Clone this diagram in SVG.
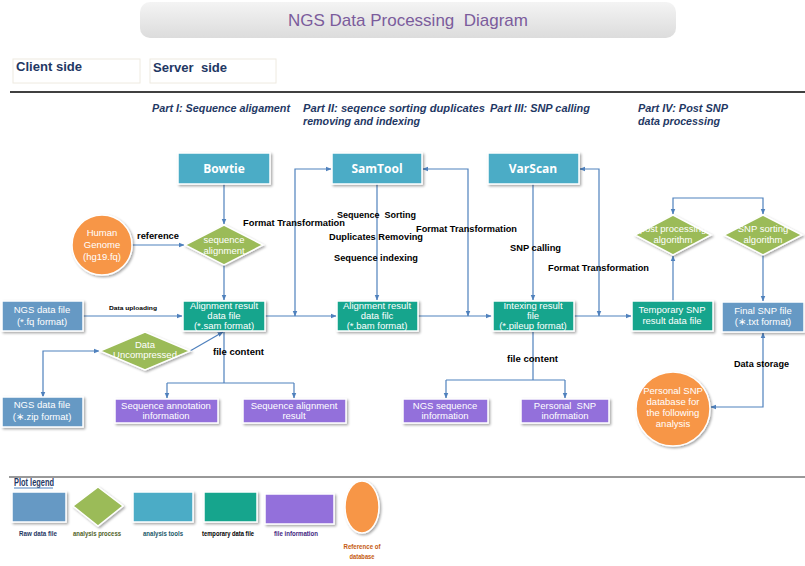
<svg xmlns="http://www.w3.org/2000/svg" width="805" height="566" viewBox="0 0 805 566">
<style>
text{white-space:pre}
.lbl{font-family:"Liberation Sans",Arial,sans-serif;font-weight:bold;font-size:9px;fill:#000}
.tiny{font-family:"Liberation Sans",Arial,sans-serif;font-weight:bold;font-size:6px;fill:#000}
.part{font-family:"Liberation Sans",Arial,sans-serif;font-weight:bold;font-style:italic;font-size:10px;fill:#1f3864}
.nt{font-family:"Liberation Sans",Arial,sans-serif;font-size:9.5px;fill:#fff;text-anchor:middle}
.tool{font-family:"Open Sans","Liberation Sans",sans-serif;font-size:12px;font-weight:bold;fill:#fff;text-anchor:middle}
.raw{fill:#6699c4;stroke:#fff;stroke-width:1.5;filter:url(#sh)}
.tl{fill:#4bacc6;stroke:#fff;stroke-width:1.5;filter:url(#sh)}
.tmp{fill:#13a58d;stroke:#fff;stroke-width:1.5;filter:url(#sh)}
.inf{fill:#9370db;stroke:#fff;stroke-width:1.5;filter:url(#sh)}
.dia{fill:#9bbb59;stroke:#fff;stroke-width:1.5;filter:url(#sh)}
.org{fill:#f79646;stroke:#fff;stroke-width:1.5;filter:url(#sh)}
.c{fill:none;stroke:#4f81bd;stroke-width:1.2}
.leg{font-family:"Liberation Sans",Arial,sans-serif;font-weight:bold;font-size:8px;text-anchor:middle}
</style>
<defs>
<filter id="sh" x="-20%" y="-20%" width="150%" height="150%">
<feDropShadow dx="1.5" dy="1.5" stdDeviation="1" flood-color="#000" flood-opacity="0.35"/>
</filter>
<linearGradient id="tg" x1="0" y1="0" x2="0" y2="1">
<stop offset="0" stop-color="#f4f4f4"/><stop offset="1" stop-color="#dcdcdc"/>
</linearGradient>
<marker id="ar" viewBox="0 0 10 10" refX="9" refY="5" markerWidth="6" markerHeight="6" orient="auto-start-reverse" markerUnits="userSpaceOnUse">
<path d="M0,1 L10,5 L0,9 z" fill="#4f81bd"/>
</marker>
</defs>
<rect width="805" height="566" fill="#fff"/>

<g id="title">
<rect x="140" y="2" width="536" height="36" rx="10" fill="url(#tg)"/>
<text x="408" y="26" text-anchor="middle" font-family="Liberation Sans,Arial,sans-serif" font-size="17" fill="#7b5c9c">NGS Data Processing  Diagram</text>
</g>
<g id="sides">
<rect x="13" y="59" width="127" height="24" fill="#fff" stroke="#eeeae0"/>
<text x="16" y="71" font-family="Liberation Sans,Arial,sans-serif" font-weight="bold" font-size="12" fill="#1f3864" textLength="66" lengthAdjust="spacingAndGlyphs">Client side</text>
<rect x="150" y="59" width="126" height="24" fill="#fff" stroke="#eeeae0"/>
<text x="153" y="72" font-family="Liberation Sans,Arial,sans-serif" font-weight="bold" font-size="12" fill="#1f3864" textLength="74" lengthAdjust="spacingAndGlyphs">Server  side</text>
<line x1="10" y1="92" x2="805" y2="92" stroke="#000" stroke-width="1.5"/>
</g>
<g id="parts">
<text class="part" x="152" y="112" textLength="138" lengthAdjust="spacingAndGlyphs">Part I: Sequence aligament</text>
<text class="part" x="303" y="112" textLength="182" lengthAdjust="spacingAndGlyphs">Part II: seqence sorting duplicates</text>
<text class="part" x="303" y="125" textLength="117" lengthAdjust="spacingAndGlyphs">removing and indexing</text>
<text class="part" x="490" y="112" textLength="100" lengthAdjust="spacingAndGlyphs">Part III: SNP calling</text>
<text class="part" x="638" y="112" textLength="90" lengthAdjust="spacingAndGlyphs">Part IV: Post SNP</text>
<text class="part" x="638" y="125" textLength="82" lengthAdjust="spacingAndGlyphs">data processing</text>
</g>

<g id="connectors">
<path class="c" d="M224,184 V224" marker-end="url(#ar)"/>
<path class="c" d="M132,245 H184" marker-end="url(#ar)"/>
<path class="c" d="M224,265 V300" marker-end="url(#ar)"/>
<path class="c" d="M83,316 H182" marker-end="url(#ar)"/>
<path class="c" d="M43,397 V351 H99" marker-start="url(#ar)" marker-end="url(#ar)"/>
<path class="c" d="M190,351 L223,332" marker-end="url(#ar)"/>
<path class="c" d="M224,332 V383 M167,383 H294"/>
<path class="c" d="M167,383 V398" marker-end="url(#ar)"/>
<path class="c" d="M294,383 V398" marker-end="url(#ar)"/>
<path class="c" d="M265,316 H336" marker-end="url(#ar)"/>
<path class="c" d="M295,316 V169 H331" marker-start="url(#ar)" marker-end="url(#ar)"/>
<path class="c" d="M377,184 V300" marker-end="url(#ar)"/>
<path class="c" d="M418,316 H491" marker-end="url(#ar)"/>
<path class="c" d="M468,316 V169 H423" marker-start="url(#ar)" marker-end="url(#ar)"/>
<path class="c" d="M533,184 V300" marker-end="url(#ar)"/>
<path class="c" d="M574,316 H631" marker-end="url(#ar)"/>
<path class="c" d="M599,316 V169 H580" marker-start="url(#ar)" marker-end="url(#ar)"/>
<path class="c" d="M533,332 V380 M446,380 H565"/>
<path class="c" d="M446,380 V398" marker-end="url(#ar)"/>
<path class="c" d="M565,380 V398" marker-end="url(#ar)"/>
<path class="c" d="M673,301 V256" marker-end="url(#ar)"/>
<path class="c" d="M673,214 V198 H763 V214" marker-start="url(#ar)" marker-end="url(#ar)"/>
<path class="c" d="M763,255 V301" marker-end="url(#ar)"/>
<path class="c" d="M763,333 V407 H711" marker-start="url(#ar)" marker-end="url(#ar)"/>
</g>

<g id="conn-labels">
<text class="lbl" x="137" y="239" textLength="42" lengthAdjust="spacingAndGlyphs">reference</text>
<text class="tiny" x="109" y="310" textLength="48" lengthAdjust="spacingAndGlyphs">Data uploading</text>
<text class="lbl" x="213" y="355" textLength="51" lengthAdjust="spacingAndGlyphs">file content</text>
<text class="lbl" x="243" y="226" textLength="102" lengthAdjust="spacingAndGlyphs">Format Transformation</text>
<text class="lbl" x="337" y="218" textLength="79" lengthAdjust="spacingAndGlyphs">Sequence  Sorting</text>
<text class="lbl" x="329" y="240" textLength="94" lengthAdjust="spacingAndGlyphs">Duplicates Removing</text>
<text class="lbl" x="334" y="261" textLength="84" lengthAdjust="spacingAndGlyphs">Sequence indexing</text>
<text class="lbl" x="416" y="232" textLength="101" lengthAdjust="spacingAndGlyphs">Format Transformation</text>
<text class="lbl" x="510" y="251" textLength="51" lengthAdjust="spacingAndGlyphs">SNP calling</text>
<text class="lbl" x="548" y="271" textLength="101" lengthAdjust="spacingAndGlyphs">Format Transformation</text>
<text class="lbl" x="507" y="362" textLength="51" lengthAdjust="spacingAndGlyphs">file content</text>
<text class="lbl" x="734" y="367" textLength="55" lengthAdjust="spacingAndGlyphs">Data storage</text>
</g>

<g id="bowtie"><rect class="tl" x="178" y="153" width="92" height="31"/><text class="tool" x="224" y="173">Bowtie</text></g>
<g id="samtool"><rect class="tl" x="332" y="153" width="90" height="31"/><text class="tool" x="377" y="173">SamTool</text></g>
<g id="varscan"><rect class="tl" x="488" y="153" width="91" height="31"/><text class="tool" x="533" y="173">VarScan</text></g>

<g id="human-genome"><circle class="org" cx="102" cy="245" r="30"/>
<text class="nt" x="102" y="236">Human</text><text class="nt" x="102" y="248">Genome</text><text class="nt" x="102" y="260">(hg19.fq)</text></g>
<g id="seq-align"><polygon class="dia" points="224,225 263,245 224,265 185,245"/>
<text class="nt" x="224" y="243">sequence</text><text class="nt" x="224" y="254">alignment</text></g>

<g id="fq"><rect class="raw" x="2" y="301" width="81" height="30"/>
<text class="nt" x="42" y="313">NGS data file</text><text class="nt" x="42" y="325">(*.fq format)</text></g>
<g id="sam"><rect class="tmp" x="183" y="301" width="82" height="30"/>
<text class="nt" x="224" y="309">Alignment result</text><text class="nt" x="224" y="319">data file</text><text class="nt" x="224" y="329">(*.sam format)</text></g>
<g id="uncompress"><polygon class="dia" points="145,332 190,351 145,370 100,351"/>
<text class="nt" x="145" y="348">Data</text><text class="nt" x="145" y="358">Uncompressed</text></g>
<g id="zip"><rect class="raw" x="2" y="397" width="81" height="30"/>
<text class="nt" x="42" y="408">NGS data file</text><text class="nt" x="42" y="420">(∗.zip format)</text></g>
<g id="seq-annot"><rect class="inf" x="115" y="399" width="103" height="24"/>
<text class="nt" x="166" y="409">Sequence annotation</text><text class="nt" x="166" y="419">information</text></g>
<g id="seq-result"><rect class="inf" x="243" y="399" width="103" height="24"/>
<text class="nt" x="294" y="409">Sequence alignment</text><text class="nt" x="294" y="419">result</text></g>

<g id="bam"><rect class="tmp" x="337" y="301" width="81" height="30"/>
<text class="nt" x="377" y="309">Alignment result</text><text class="nt" x="377" y="319">data filc</text><text class="nt" x="377" y="329">(*.bam format)</text></g>
<g id="pileup"><rect class="tmp" x="493" y="301" width="81" height="30"/>
<text class="nt" x="533" y="309">Intexing result</text><text class="nt" x="533" y="319">file</text><text class="nt" x="533" y="329">(*.pileup format)</text></g>
<g id="ngs-seq"><rect class="inf" x="403" y="399" width="85" height="24"/>
<text class="nt" x="445" y="409">NGS sequence</text><text class="nt" x="445" y="419">information</text></g>
<g id="personal-snp"><rect class="inf" x="521" y="399" width="88" height="24"/>
<text class="nt" x="565" y="409">Personal  SNP</text><text class="nt" x="565" y="419">inofrmation</text></g>

<g id="temp-snp"><rect class="tmp" x="632" y="301" width="81" height="30"/>
<text class="nt" x="672" y="313">Temporary SNP</text><text class="nt" x="672" y="324">result data file</text></g>
<g id="post-proc"><polygon class="dia" points="673,215 711,235 673,255 635,235"/>
<text class="nt" x="673" y="232">post processing</text><text class="nt" x="673" y="243">algorithm</text></g>
<g id="snp-sort"><polygon class="dia" points="763,215 802,235 763,255 724,235"/>
<text class="nt" x="763" y="232">SNP sorting</text><text class="nt" x="763" y="243">algorithm</text></g>
<g id="final-snp"><rect class="raw" x="722" y="302" width="82" height="30"/>
<text class="nt" x="763" y="314">Final SNP file</text><text class="nt" x="763" y="325">(∗.txt format)</text></g>
<g id="snp-db"><circle class="org" cx="673" cy="409" r="37"/>
<text class="nt" x="673" y="394">Personal SNP</text><text class="nt" x="673" y="405">database for</text><text class="nt" x="673" y="416">the following</text><text class="nt" x="673" y="427">analysis</text></g>

<g id="legend">
<line x1="9" y1="477" x2="805" y2="477" stroke="#333" stroke-width="1"/>
<text x="14" y="486" font-family="Liberation Sans,Arial,sans-serif" font-weight="bold" font-size="10" fill="#1f3864" textLength="40" lengthAdjust="spacingAndGlyphs">Plot legend</text>
<line x1="14" y1="488" x2="53" y2="488" stroke="#4f81bd" stroke-width="1"/>
<rect class="raw" x="12" y="492" width="54" height="30"/>
<polygon class="dia" points="98,487 123,506 98,526 73,506"/>
<rect class="tl" x="133" y="492" width="60" height="30"/>
<rect class="tmp" x="204" y="492" width="53" height="30"/>
<rect class="inf" x="265" y="494" width="69" height="30"/>
<ellipse class="org" cx="362" cy="507" rx="17" ry="26"/>
<text class="leg" x="38" y="536" fill="#1f3864" textLength="38" lengthAdjust="spacingAndGlyphs">Raw data file</text>
<text class="leg" x="97" y="536" fill="#4f6228" textLength="48" lengthAdjust="spacingAndGlyphs">analysis process</text>
<text class="leg" x="163" y="536" fill="#215868" textLength="40" lengthAdjust="spacingAndGlyphs">analysis tools</text>
<text class="leg" x="228" y="536" fill="#000" textLength="52" lengthAdjust="spacingAndGlyphs">temporary data file</text>
<text class="leg" x="296" y="536" fill="#3f1f7f" textLength="44" lengthAdjust="spacingAndGlyphs">file information</text>
<text class="leg" x="362" y="549" fill="#c55a11" textLength="37" lengthAdjust="spacingAndGlyphs">Reference of</text>
<text class="leg" x="362" y="559" fill="#c55a11" textLength="25" lengthAdjust="spacingAndGlyphs">database</text>
</g>
</svg>
